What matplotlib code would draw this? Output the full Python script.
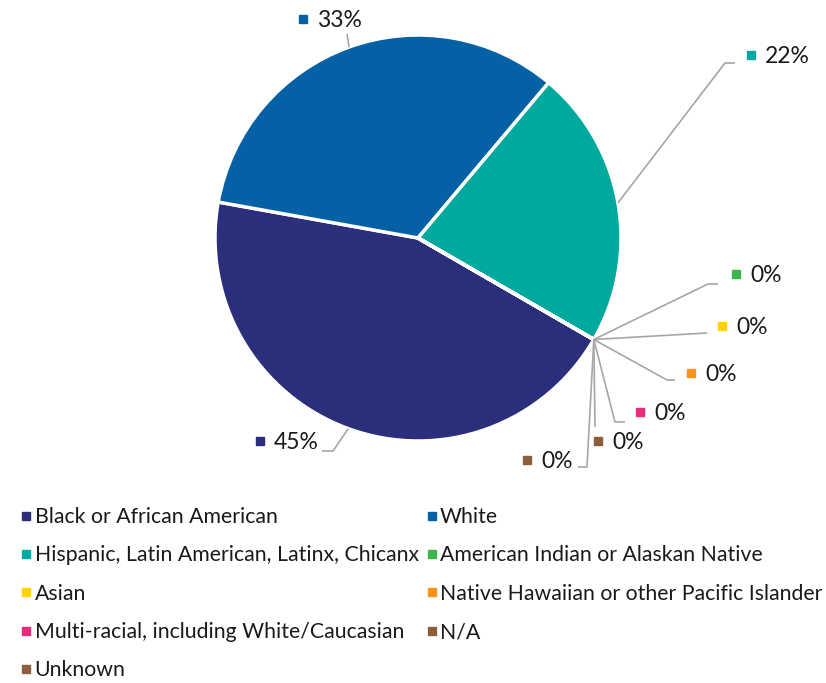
import matplotlib.pyplot as plt
from matplotlib.lines import Line2D
import numpy as np

plt.rcParams["font.family"] = ["Lato", "DejaVu Sans"]

categories = [
    "Black or African American",
    "White",
    "Hispanic, Latin American, Latinx, Chicanx",
    "American Indian or Alaskan Native",
    "Asian",
    "Native Hawaiian or other Pacific Islander",
    "Multi-racial, including White/Caucasian",
    "N/A",
    "Unknown",
]
values = [44.5, 33.3, 22.2, 0, 0, 0, 0, 0, 0]
pct_labels = ["45%", "33%", "22%", "0%", "0%", "0%", "0%", "0%", "0%"]
colors = ["#2b2e7a", "#0561a6", "#00a99d", "#39b54a", "#ffd200",
          "#f7941d", "#ec2a7b", "#8c5e3c", "#8c5e3c"]

W, H = 826, 683
CX, CY, R = 418, 238, 203
FS_LAB = 16.5
FS_LEG = 15.35


def fy(y):
    # pixel row (top-down) -> data y
    return H - y


# label layout: marker x, marker y, leader points after the wedge edge
label_layout = [
    (260, 441, [(333, 451), (322, 451)]),
    (303, 19, [(347, 34)]),
    (751, 55, [(725, 63), (735, 63)]),
    (736, 274, [(708, 284), (718, 284)]),
    (722, 326, [(707, 333)]),
    (691, 373, [(667, 380), (675, 380)]),
    (640, 412, [(615, 422), (625, 422)]),
    (598, 441, [(595, 427)]),
    (527, 460, [(587, 467), (578, 467)]),
]

fig = plt.figure(figsize=(W / 100, H / 100), dpi=100)
ax = fig.add_axes([0, 0, 1, 1])

wedges, _ = ax.pie(values, colors=colors, startangle=-30, counterclock=False,
                   center=(CX, fy(CY)), radius=R, frame=True,
                   wedgeprops=dict(edgecolor="white", linewidth=2.5))
ax.set_xlim(0, W)
ax.set_ylim(0, H)
ax.set_aspect("equal")
ax.axis("off")

for w, lab, col, (mx, my, pts) in zip(wedges, pct_labels, colors, label_layout):
    mid = np.deg2rad((w.theta1 + w.theta2) / 2)
    ex = CX + R * np.cos(mid)
    ey = fy(CY) + R * np.sin(mid)
    xs = [ex] + [p[0] for p in pts]
    ys = [ey] + [fy(p[1]) for p in pts]
    ax.plot(xs, ys, color="#a6a6a6", lw=1.2, solid_capstyle="butt", zorder=1)
    ax.plot(mx, fy(my), marker="s", ms=5.5, color=col, ls="none")
    ax.text(mx + 14, fy(my) - 1.5, lab, fontsize=FS_LAB, va="center",
            ha="left", color="#1a1a1a")

# legend, filled row by row like the original
order = [0, 2, 4, 6, 8, 1, 3, 5, 7]
handles = [Line2D([], [], marker="s", ms=5.5, ls="none", color=colors[i])
           for i in order]
fig.legend(handles, [categories[i] for i in order], ncol=2,
           loc="upper left", bbox_to_anchor=(21 / W, 1 - 507 / H),
           frameon=False, fontsize=FS_LEG, handlelength=0.5,
           handletextpad=0.14, columnspacing=0.36, labelspacing=0.86,
           borderpad=0, borderaxespad=0, labelcolor="#1a1a1a")

fig.savefig("out.png", dpi=100)
